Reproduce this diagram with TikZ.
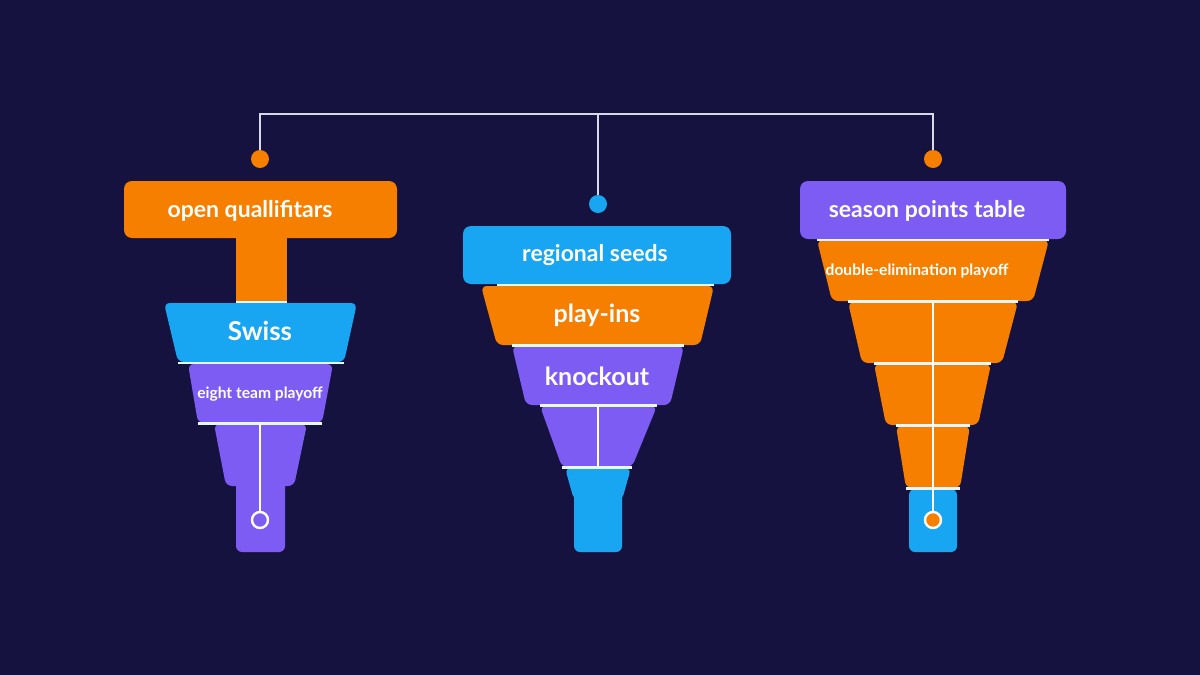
\documentclass[tikz,border=0pt]{standalone}
\usepackage{fontspec}
\setmainfont{Lato}
\usetikzlibrary{positioning}
\definecolor{bgnavy}{HTML}{16123F}
\definecolor{segorange}{HTML}{F77F00}
\definecolor{segblue}{HTML}{18A6F2}
\definecolor{segpurple}{HTML}{7C5CF2}
\definecolor{wire}{HTML}{D8D8E6}
\tikzset{
  label/.style={text=white, font=\bfseries, inner sep=0pt},
  dot/.style={circle, inner sep=0pt, minimum size=9pt, fill=segorange},
  ring/.style={circle, inner sep=0pt, minimum size=8pt, draw=white, line width=1.2pt},
  wire/.style={draw=wire, line width=1.2pt},
  sep/.style={draw=white!90!segblue, line width=1.3pt}
}
% trapezoid segment: top-left x, top-right x, top y, bottom-left x, bottom-right x, bottom y, colour
\newcommand{\seg}[7]{\fill[#7, rounded corners=3pt] (#1,#3) -- (#2,#3) -- (#5,#6) -- (#4,#6) -- cycle;}
\begin{document}
\begin{tikzpicture}[x=0.5pt, y=-0.5pt]
  \fill[bgnavy] (0,0) rectangle (1200,675);
  \useasboundingbox (0,0) rectangle (1200,675);

  % header wire
  \coordinate (hub) at (598,114);
  \node[dot] (dotL) at (260,159) {};
  \node[dot, fill=segblue] (dotM) at (598,204) {};
  \node[dot] (dotR) at (933,159) {};
  \draw[wire] (dotL) |- (hub) -| (dotR);
  \draw[wire] (hub) -- (dotM);

  % left funnel
  \fill[segorange] (236,236) rectangle (287,302);
  \fill[segorange, rounded corners=4pt] (124,181) rectangle (397,238);
  \node[label, font=\bfseries\fontsize{11.5}{13}\selectfont] (open) at (250,211) {open quallifitars};
  \seg{164}{357}{303}{178}{344}{362}{segblue}
  \node[label, font=\bfseries\fontsize{13}{15}\selectfont] (swiss) at (260,331) {Swiss};
  \seg{188}{333}{364}{198}{322}{423}{segpurple}
  \node[label, font=\bfseries\fontsize{7.8}{9}\selectfont] (eight) at (260,394) {eight team playoff};
  \seg{214}{307}{424}{226}{294}{486}{segpurple}
  \fill[segpurple, rounded corners=3pt] (236,480) rectangle (285,552);
  \draw[sep] (236,302) -- (287,302);
  \draw[sep] (178,363) -- (344,363);
  \draw[sep] (198,423.5) -- (322,423.5);
  \node[ring, fill=segpurple] (endL) at (260,520) {};
  \coordinate (topL) at (260,423.5);
  \draw[wire, draw=white] (topL) -- (endL);

  % middle funnel
  \fill[segblue, rounded corners=4pt] (463,226) rectangle (731,284);
  \node[label, font=\bfseries\fontsize{11.5}{13}\selectfont] (seeds) at (595,255) {regional seeds};
  \seg{481}{714}{286}{497}{700}{345}{segorange}
  \node[label, font=\bfseries\fontsize{12.5}{14}\selectfont] (playins) at (597,315) {play-ins};
  \seg{512}{684}{346}{526}{670}{405}{segpurple}
  \node[label, font=\bfseries\fontsize{12.5}{14}\selectfont] (knock) at (597,376) {knockout};
  \seg{540}{657}{406}{562}{632}{467}{segpurple}
  \seg{565}{631}{468}{574}{622}{500}{segblue}
  \fill[segblue, rounded corners=3pt] (574,490) rectangle (622,552);
  \draw[sep] (497,285) -- (714,285);
  \draw[sep] (512,345.5) -- (684,345.5);
  \draw[sep] (540,405.5) -- (657,405.5);
  \draw[sep] (562,467.5) -- (632,467.5);
  \coordinate (midTop) at (598,405.5);
  \coordinate (midBot) at (598,467.5);
  \draw[wire, draw=white] (midTop) -- (midBot);

  % right funnel
  \fill[segpurple, rounded corners=4pt] (800,181) rectangle (1066,239);
  \node[label, font=\bfseries\fontsize{11.5}{13}\selectfont] (season) at (927,211) {season points table};
  \seg{817}{1049}{240}{832}{1033}{301}{segorange}
  \node[label, font=\bfseries\fontsize{7.8}{9}\selectfont] (double) at (917,271) {double-elimination playoff};
  \seg{848}{1018}{302}{862}{1002}{363}{segorange}
  \seg{874}{991}{364}{886}{978}{425}{segorange}
  \seg{896}{970}{426}{906}{960}{488}{segorange}
  \fill[segblue, rounded corners=3pt] (909,489) rectangle (957,552);
  \draw[sep] (817,240) -- (1049,240);
  \draw[sep] (848,301.5) -- (1018,301.5);
  \draw[sep] (874,363.5) -- (991,363.5);
  \draw[sep] (896,425.5) -- (970,425.5);
  \draw[sep] (906,488.5) -- (960,488.5);
  \node[ring, fill=segorange] (endR) at (933,520) {};
  \coordinate (topR) at (933,301.5);
  \draw[wire, draw=white] (topR) -- (endR);
\end{tikzpicture}
\end{document}
